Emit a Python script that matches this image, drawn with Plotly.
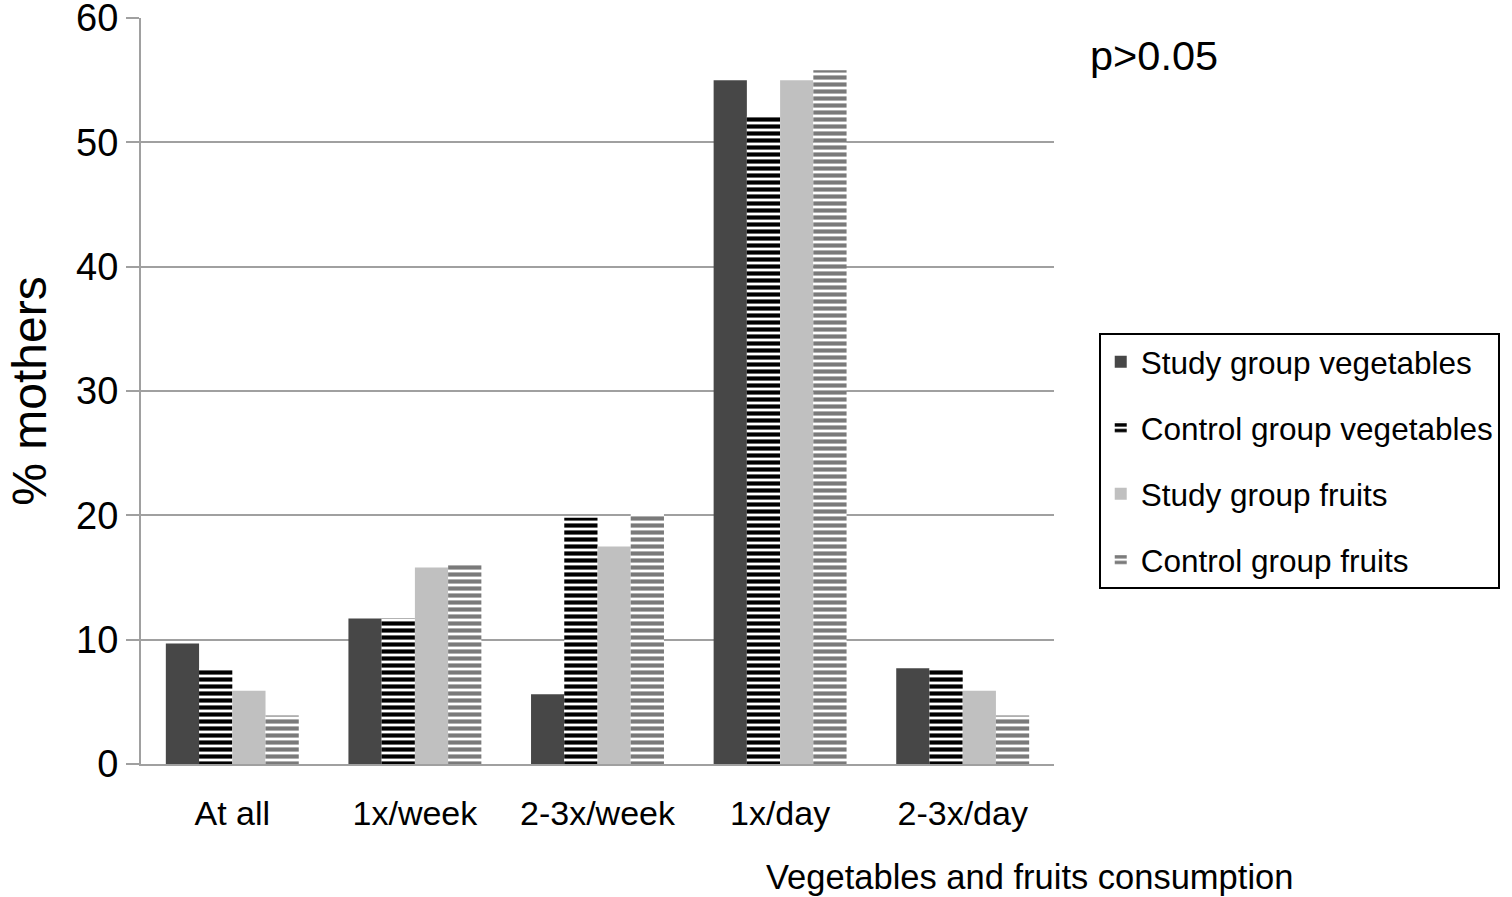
import plotly.graph_objects as go

categories = ["At all", "1x/week", "2-3x/week", "1x/day", "2-3x/day"]
study_veg = [9.7, 11.7, 5.6, 55.0, 7.7]
control_veg = [7.7, 11.7, 19.8, 52.1, 7.7]
study_fruit = [5.9, 15.8, 17.5, 55.0, 5.9]
control_fruit = [3.9, 16.1, 20.1, 55.8, 3.9]
series_names = ["Study group vegetables", "Control group vegetables",
                "Study group fruits", "Control group fruits"]

FONT = "Liberation Sans, Arial, Helvetica, sans-serif"

fig = go.Figure()
fig.add_trace(go.Bar(x=categories, y=study_veg, name=series_names[0],
                     marker=dict(color="#474747", line=dict(width=0)),
                     legendgroup="a"))
fig.add_trace(go.Bar(x=categories, y=control_veg, name=series_names[1],
                     marker=dict(color="white", line=dict(width=0),
                                 pattern=dict(shape="-", fgcolor="#000000", bgcolor="white",
                                              size=7, solidity=0.6, fgopacity=1)),
                     legendgroup="b"))
fig.add_trace(go.Bar(x=categories, y=study_fruit, name=series_names[2],
                     marker=dict(color="#c0c0c0", line=dict(width=0)),
                     legendgroup="c"))
fig.add_trace(go.Bar(x=categories, y=control_fruit, name=series_names[3],
                     marker=dict(color="white", line=dict(width=0),
                                 pattern=dict(shape="-", fgcolor="#7a7a7a", bgcolor="white",
                                              size=7, solidity=0.6, fgopacity=1)),
                     legendgroup="d"))

fig.update_layout(
    width=1512, height=897,
    paper_bgcolor="white", plot_bgcolor="white",
    margin=dict(l=141, r=458, t=18, b=133, autoexpand=False),
    barmode="group", bargap=0.272, bargroupgap=0,
    font=dict(family=FONT, color="black"),
    showlegend=True,
    legend=dict(x=1.049, y=0.578, xanchor="left", yanchor="top",
                bordercolor="black", borderwidth=2, bgcolor="white",
                font=dict(size=31.5, family=FONT), traceorder="grouped",
                tracegroupgap=22),
    xaxis=dict(showgrid=False, showline=True, linecolor="#a0a0a0", linewidth=2,
               ticks="", tickfont=dict(size=34), ticklabelstandoff=18, automargin=False),
    yaxis=dict(range=[0, 60], dtick=10, showgrid=True, gridcolor="#a0a0a0", gridwidth=1.5,
               showline=True, linecolor="#a0a0a0", linewidth=2,
               ticks="outside", ticklen=13, tickcolor="#a0a0a0", tickwidth=1.5,
               tickfont=dict(size=38), zeroline=False, automargin=False,
               ticklabeloverflow="allow",
               title=dict(text="% mothers", font=dict(size=48), standoff=14)),
    annotations=[
        dict(text="p>0.05", xref="paper", yref="paper", x=1.037, y=0.95,
             xanchor="left", yanchor="middle", showarrow=False, font=dict(size=41.5)),
        dict(text="Vegetables and fruits consumption", xref="paper", yref="paper",
             x=0.682, y=-0.152, xanchor="left", yanchor="middle", showarrow=False,
             font=dict(size=34.5)),
    ],
)

fig.write_html("out.html", config={"displayModeBar": False},
               post_script="document.body.style.margin='0';")
